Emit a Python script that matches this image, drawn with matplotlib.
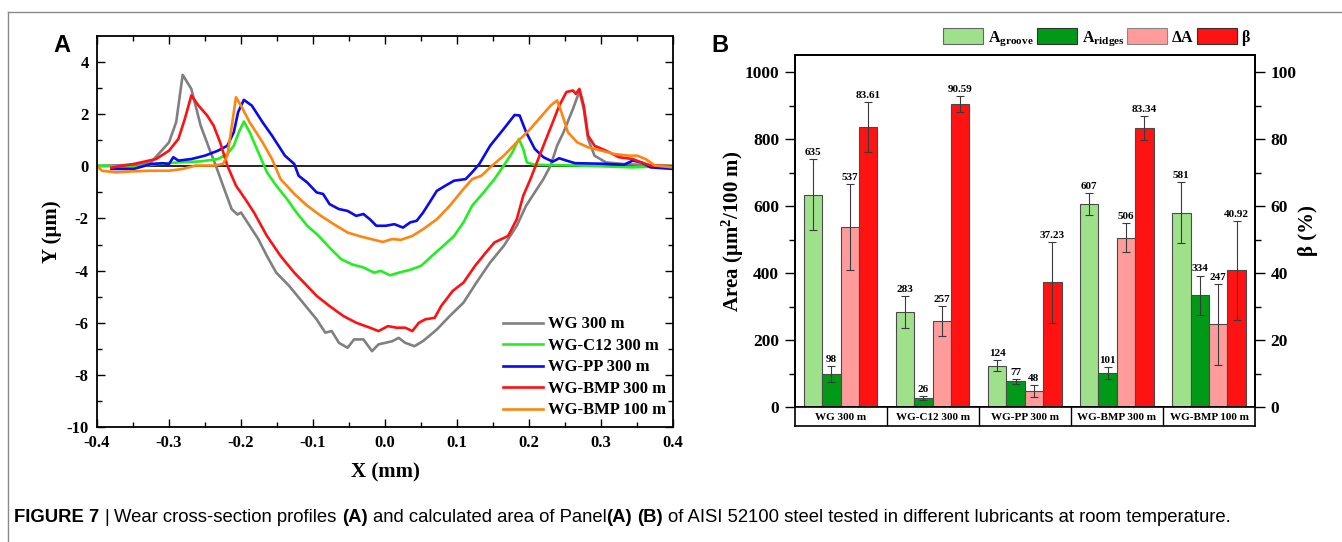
import matplotlib
matplotlib.use('Agg')
import matplotlib.pyplot as plt
from matplotlib.lines import Line2D
import numpy as np

plt.rcParams['font.family'] = ['Liberation Serif', 'DejaVu Serif']
plt.rcParams['font.weight'] = 'bold'
plt.rcParams['mathtext.fontset'] = 'custom'
plt.rcParams['mathtext.rm'] = 'Liberation Serif:bold'
plt.rcParams['mathtext.bf'] = 'Liberation Serif:bold'
plt.rcParams['mathtext.it'] = 'Liberation Serif:italic:bold'

# ---------------- Panel A data (profiles) ----------------
wg_x = [-0.40, -0.37, -0.34, -0.325, -0.30, -0.29, -0.281, -0.269, -0.256, -0.244, -0.235, -0.225,
        -0.213, -0.205, -0.20, -0.188, -0.176, -0.164, -0.151, -0.133, -0.114, -0.095, -0.083,
        -0.074, -0.064, -0.052, -0.043, -0.030, -0.018, -0.009, 0.010, 0.019, 0.028, 0.041, 0.053,
        0.072, 0.090, 0.109, 0.127, 0.146, 0.165, 0.183, 0.196, 0.208, 0.220, 0.230, 0.239, 0.248,
        0.261, 0.270, 0.276, 0.282, 0.291, 0.307, 0.332, 0.36, 0.40]
wg_y = [0.02, 0.04, 0.08, 0.15, 0.92, 1.70, 3.51, 2.97, 1.56, 0.67, 0.03, -0.74,
        -1.64, -1.85, -1.77, -2.28, -2.79, -3.44, -4.08, -4.59, -5.23, -5.87, -6.38,
        -6.32, -6.77, -6.96, -6.64, -6.64, -7.09, -6.83, -6.71, -6.58, -6.77, -6.90, -6.70,
        -6.26, -5.74, -5.23, -4.46, -3.69, -3.05, -2.28, -1.51, -1.00, -0.49, 0.03, 0.79, 1.31,
        2.20, 2.88, 2.20, 1.05, 0.41, 0.15, 0.09, 0.05, 0.02]

c12_x = [-0.40, -0.349, -0.318, -0.287, -0.256, -0.232, -0.219, -0.210, -0.203, -0.196, -0.188,
         -0.176, -0.164, -0.151, -0.136, -0.123, -0.108, -0.092, -0.077, -0.061, -0.046, -0.030,
         -0.015, -0.006, 0.007, 0.019, 0.035, 0.050, 0.065, 0.081, 0.096, 0.109, 0.121, 0.137,
         0.152, 0.165, 0.177, 0.186, 0.192, 0.197, 0.208, 0.270, 0.344, 0.40]
c12_y = [0.03, -0.04, 0.09, 0.15, 0.19, 0.28, 0.47, 0.79, 1.31, 1.72, 1.31,
         0.54, -0.23, -0.74, -1.26, -1.77, -2.28, -2.67, -3.12, -3.56, -3.76, -3.88,
         -4.08, -4.01, -4.18, -4.08, -3.97, -3.82, -3.44, -3.05, -2.67, -2.15, -1.51, -1.00,
         -0.49, 0.03, 0.54, 1.05, 0.67, 0.15, 0.06, 0.03, -0.04, 0.02]

pp_x = [-0.38, -0.349, -0.325, -0.309, -0.300, -0.294, -0.287, -0.269, -0.250, -0.232, -0.219,
        -0.210, -0.204, -0.196, -0.185, -0.170, -0.157, -0.139, -0.126, -0.120, -0.108, -0.095,
        -0.086, -0.077, -0.064, -0.052, -0.040, -0.030, -0.021, -0.012, 0.001, 0.013, 0.025,
        0.035, 0.044, 0.053, 0.062, 0.072, 0.084, 0.096, 0.112, 0.121, 0.131, 0.146, 0.165,
        0.180, 0.187, 0.196, 0.208, 0.220, 0.233, 0.242, 0.252, 0.264, 0.301, 0.332, 0.344,
        0.356, 0.369, 0.40]
pp_y = [-0.10, -0.10, 0.09, 0.12, 0.09, 0.35, 0.22, 0.28, 0.41, 0.60, 0.79,
        1.31, 2.08, 2.55, 2.33, 1.69, 1.18, 0.41, 0.09, -0.36, -0.62, -1.00,
        -1.06, -1.45, -1.64, -1.71, -1.90, -1.83, -2.03, -2.28, -2.28, -2.22, -2.35,
        -2.15, -2.09, -1.77, -1.38, -0.94, -0.74, -0.55, -0.49, -0.23, 0.09, 0.79, 1.44,
        1.97, 1.95, 1.31, 0.67, 0.35, 0.18, 0.31, 0.22, 0.12, 0.10, 0.06, 0.22,
        0.15, -0.04, -0.10]

bmp300_x = [-0.38, -0.349, -0.318, -0.300, -0.287, -0.278, -0.269, -0.259, -0.247, -0.238, -0.229,
            -0.219, -0.207, -0.194, -0.182, -0.164, -0.145, -0.126, -0.108, -0.095, -0.077, -0.058,
            -0.040, -0.021, -0.009, 0.004, 0.016, 0.028, 0.038, 0.047, 0.056, 0.069, 0.078, 0.094,
            0.109, 0.125, 0.140, 0.152, 0.171, 0.183, 0.192, 0.202, 0.211, 0.220, 0.233, 0.242,
            0.252, 0.261, 0.265, 0.270, 0.276, 0.282, 0.291, 0.307, 0.325, 0.344, 0.356, 0.369, 0.40]
bmp300_y = [-0.05, 0.09, 0.28, 0.60, 1.05, 1.82, 2.72, 2.33, 1.95, 1.56, 0.92,
            0.03, -0.74, -1.26, -1.77, -2.67, -3.44, -4.08, -4.59, -4.97, -5.36, -5.74,
            -6.00, -6.19, -6.32, -6.13, -6.19, -6.19, -6.32, -6.00, -5.87, -5.81, -5.36, -4.78,
            -4.46, -3.82, -3.31, -2.92, -2.67, -2.03, -1.13, -0.49, 0.15, 0.79, 1.69, 2.33,
            2.85, 2.91, 2.78, 2.97, 2.33, 1.18, 0.79, 0.60, 0.35, 0.28, 0.15, 0.03, 0.0]

bmp100_x = [-0.40, -0.393, -0.374, -0.349, -0.325, -0.300, -0.281, -0.263, -0.238, -0.225, -0.219,
            -0.214, -0.207, -0.200, -0.188, -0.170, -0.157, -0.145, -0.126, -0.108, -0.089, -0.071,
            -0.052, -0.034, -0.015, -0.003, 0.010, 0.022, 0.038, 0.053, 0.072, 0.090, 0.109, 0.121,
            0.134, 0.146, 0.165, 0.183, 0.202, 0.218, 0.230, 0.239, 0.245, 0.254, 0.267, 0.282,
            0.301, 0.319, 0.338, 0.350, 0.362, 0.375, 0.40]
bmp100_y = [0.00, -0.17, -0.23, -0.19, -0.17, -0.17, -0.10, 0.03, 0.03, 0.09, 0.41,
            1.31, 2.65, 2.33, 1.69, 0.92, 0.28, -0.49, -1.06, -1.51, -1.90, -2.22,
            -2.54, -2.69, -2.82, -2.90, -2.79, -2.82, -2.67, -2.41, -2.03, -1.51, -0.87, -0.49,
            -0.36, -0.04, 0.41, 0.92, 1.44, 1.95, 2.33, 2.53, 2.08, 1.31, 0.92, 0.73,
            0.60, 0.47, 0.41, 0.41, 0.28, 0.03, -0.04]

series_names = ['WG 300 m', 'WG-C12 300 m', 'WG-PP 300 m', 'WG-BMP 300 m', 'WG-BMP 100 m']
series_colors = ['#808080', '#22ee22', '#0a0aee', '#ff1111', '#ff8410']
series_x = [wg_x, c12_x, pp_x, bmp300_x, bmp100_x]
series_y = [wg_y, c12_y, pp_y, bmp300_y, bmp100_y]

# ---------------- Panel B data ----------------
categories = ['WG 300 m', 'WG-C12 300 m', 'WG-PP 300 m', 'WG-BMP 300 m', 'WG-BMP 100 m']
a_groove = [635, 283, 124, 607, 581]
a_groove_err = [107, 48, 17, 34, 92]
a_ridges = [98, 26, 77, 101, 334]
a_ridges_err = [24, 6, 8, 18, 59]
delta_a = [537, 257, 48, 506, 247]
delta_a_err = [128, 46, 18, 43, 122]
beta = [83.61, 90.59, 37.23, 83.34, 40.92]
beta_err = [7.4, 2.4, 12.0, 3.5, 14.8]

W, H = 1342, 542
fig = plt.figure(figsize=(W / 100, H / 100), dpi=100)


def fx(px):
    return px / W


def fy(py):
    return 1 - py / H


# frame lines
fig.add_artist(Line2D([fx(8), 1.0], [fy(12), fy(12)], transform=fig.transFigure, color='#8a8a8a', lw=1.0))
fig.add_artist(Line2D([fx(8), fx(8)], [0.0, fy(12)], transform=fig.transFigure, color='#8a8a8a', lw=1.0))

# ---------------- Panel A ----------------
axA = fig.add_axes([fx(97), fy(427), fx(673) - fx(97), fy(36) - fy(427)])
for xs, ys, c, n in zip(series_x, series_y, series_colors, series_names):
    axA.plot(xs, ys, color=c, lw=1.9, label=n, solid_joinstyle='round')
axA.axhline(0, color='black', lw=1.2, zorder=0.5)
axA.set_xlim(-0.4, 0.4)
axA.set_ylim(-10, 5)
axA.set_xticks(np.arange(-0.4, 0.41, 0.1))
axA.set_xticklabels(['-0.4', '-0.3', '-0.2', '-0.1', '0.0', '0.1', '0.2', '0.3', '0.4'])
axA.set_yticks([-10, -8, -6, -4, -2, 0, 2, 4])
axA.set_yticklabels(['-10', '-8', '-6', '-4', '-2', '0', '2', '4'])
axA.set_xticks(np.arange(-0.35, 0.4, 0.1), minor=True)
axA.set_yticks(np.arange(-9, 5, 2), minor=True)
axA.tick_params(which='both', direction='in', top=True, right=True, labelsize=12, width=1.0)
axA.tick_params(which='major', length=6, pad=6)
axA.tick_params(which='minor', length=3.5)
for sp in axA.spines.values():
    sp.set_linewidth(1.3)
axA.set_xlabel('X (mm)', fontsize=15, fontweight='bold')
axA.set_ylabel('Y (μm)', fontsize=15, fontweight='bold')
axA.xaxis.set_label_coords(0.5, -0.09)
axA.yaxis.set_label_coords(-0.06, 0.5)
legA = axA.legend(loc='lower right', bbox_to_anchor=(1.0, 0.005), frameon=False, fontsize=12,
                  handlelength=2.4, handletextpad=0.3, labelspacing=0.33, borderaxespad=0.0)

fig.text(fx(62), fy(45), 'A', family=['Liberation Sans', 'DejaVu Sans'], fontweight='bold',
         fontsize=17, ha='center', va='center')
fig.text(fx(720), fy(45), 'B', family=['Liberation Sans', 'DejaVu Sans'], fontweight='bold',
         fontsize=17, ha='center', va='center')

# ---------------- Panel B ----------------
bl, br, bt, bb = 794.5, 1255, 55, 407
axB = fig.add_axes([fx(bl), fy(bb), fx(br) - fx(bl), fy(bt) - fy(bb)])
axB2 = axB.twinx()
xpos = np.arange(len(categories))
bw = 0.2
col_groove, col_ridges, col_delta, col_beta = '#9fe08a', '#009a18', '#ff9b9b', '#ff1212'
ekw = dict(ecolor='#3a3a3a', elinewidth=0.8, capsize=3.2, capthick=0.8)
edge = '#4a4a4a'
axB.bar(xpos - 0.3, a_groove, bw, yerr=a_groove_err, color=col_groove, edgecolor=edge, lw=0.8,
        error_kw=ekw, label=r'$\mathbf{A_{groove}}$')
axB.bar(xpos - 0.1, a_ridges, bw, yerr=a_ridges_err, color=col_ridges, edgecolor=edge, lw=0.8,
        error_kw=ekw, label=r'$\mathbf{A_{ridges}}$')
axB.bar(xpos + 0.1, delta_a, bw, yerr=delta_a_err, color=col_delta, edgecolor=edge, lw=0.8,
        error_kw=ekw, label='ΔA')
axB2.bar(xpos + 0.3, beta, bw, yerr=beta_err, color=col_beta, edgecolor=edge, lw=0.8,
         error_kw=ekw, label='β')

for off, vals, errs in [(-0.3, a_groove, a_groove_err), (-0.1, a_ridges, a_ridges_err),
                        (0.1, delta_a, delta_a_err)]:
    for i, (v, e) in enumerate(zip(vals, errs)):
        axB.text(xpos[i] + off, v + e + 6, f'{v}', ha='center', va='bottom', fontsize=8, fontweight='bold')
for i, (v, e) in enumerate(zip(beta, beta_err)):
    axB2.text(xpos[i] + 0.3, v + e + 0.6, f'{v:.2f}', ha='center', va='bottom', fontsize=8, fontweight='bold')

axB.set_xlim(-0.5, len(categories) - 0.5)
axB.set_ylim(0, 1052)
axB2.set_ylim(0, 105.2)
axB.set_yticks(np.arange(0, 1001, 200))
axB.set_yticks(np.arange(100, 1001, 200), minor=True)
axB2.set_yticks(np.arange(0, 101, 20))
axB2.set_yticks(np.arange(10, 101, 20), minor=True)
axB.set_xticks([])
axB.tick_params(axis='y', which='both', direction='out', labelsize=12.5, width=1.0)
axB.tick_params(axis='y', which='major', length=7, pad=4)
axB.tick_params(axis='y', which='minor', length=4)
axB2.tick_params(axis='y', which='both', direction='out', labelsize=12.5, width=1.0)
axB2.tick_params(axis='y', which='major', length=7, pad=4)
axB2.tick_params(axis='y', which='minor', length=4)
for a in (axB, axB2):
    for sp in a.spines.values():
        sp.set_linewidth(1.3)
axB.set_ylabel('Area (μm$^{\\mathbf{2}}$/100 m)', fontsize=15, fontweight='bold')
axB.yaxis.set_label_coords(-0.105, 0.5)
axB2.set_ylabel('β (%)', fontsize=15, fontweight='bold', rotation=90)
axB2.yaxis.set_label_coords(1.093, 0.5)

# category row below panel B
axC = fig.add_axes([fx(bl), fy(426), fx(br) - fx(bl), fy(407) - fy(426)])
axC.set_xlim(-0.5, len(categories) - 0.5)
axC.set_ylim(0, 1)
axC.set_xticks([])
axC.set_yticks([])
for sp in axC.spines.values():
    sp.set_linewidth(1.2)
for i in range(1, len(categories)):
    axC.axvline(i - 0.5, color='black', lw=1.0)
for i, c in enumerate(categories):
    axC.text(i, 0.45, c, ha='center', va='center', fontsize=8, fontweight='bold')

handles = [plt.Rectangle((0, 0), 1, 1, facecolor=col_groove, edgecolor='#666666', lw=0.8),
           plt.Rectangle((0, 0), 1, 1, facecolor=col_ridges, edgecolor='#333333', lw=0.8),
           plt.Rectangle((0, 0), 1, 1, facecolor=col_delta, edgecolor='#888888', lw=0.8),
           plt.Rectangle((0, 0), 1, 1, facecolor=col_beta, edgecolor='#333333', lw=0.8)]
labels = [r'$\mathbf{A_{groove}}$', r'$\mathbf{A_{ridges}}$', 'ΔA', 'β']
fig.legend(handles, labels, loc='center right', bbox_to_anchor=(fx(1250), fy(38)), ncol=4,
           frameon=False, fontsize=11.5, handlelength=2.5, handleheight=1.2, handletextpad=0.3,
           columnspacing=0.2, borderaxespad=0.0, borderpad=0.0)

# ---------------- caption ----------------
cap_family = ['Liberation Sans Narrow', 'Liberation Sans', 'DejaVu Sans']
cap_size = 13.3
runs = [('FIGURE 7', 'bold'), (' ', None), ('|', 'normal'), (' ', None),
        ('Wear cross-section profiles', 'normal'), (' ', None), ('(A)', 'bold'), (' ', None),
        ('and calculated area of Panel', 'normal'), ('(A)', 'bold'), (' ', None), ('(B)', 'bold'), (' ', None),
        ('of AISI 52100 steel tested in different lubricants at room temperature.', 'normal')]
fig.canvas.draw()
renderer = fig.canvas.get_renderer()


def text_w(s, weight):
    t = fig.text(0, 0, s, family=cap_family, fontsize=cap_size, fontweight=weight)
    w = t.get_window_extent(renderer).width
    t.remove()
    return w


space_w = text_w('a a', 'normal') - text_w('aa', 'normal')
xcur = 14.0
ycap = fy(517)
for s, wgt in runs:
    if wgt is None:
        xcur += space_w
        continue
    t = fig.text(fx(xcur), ycap, s, family=cap_family, fontsize=cap_size, fontweight=wgt,
                 ha='left', va='center')
    xcur += t.get_window_extent(renderer).width

fig.savefig('out.png', dpi=100)
